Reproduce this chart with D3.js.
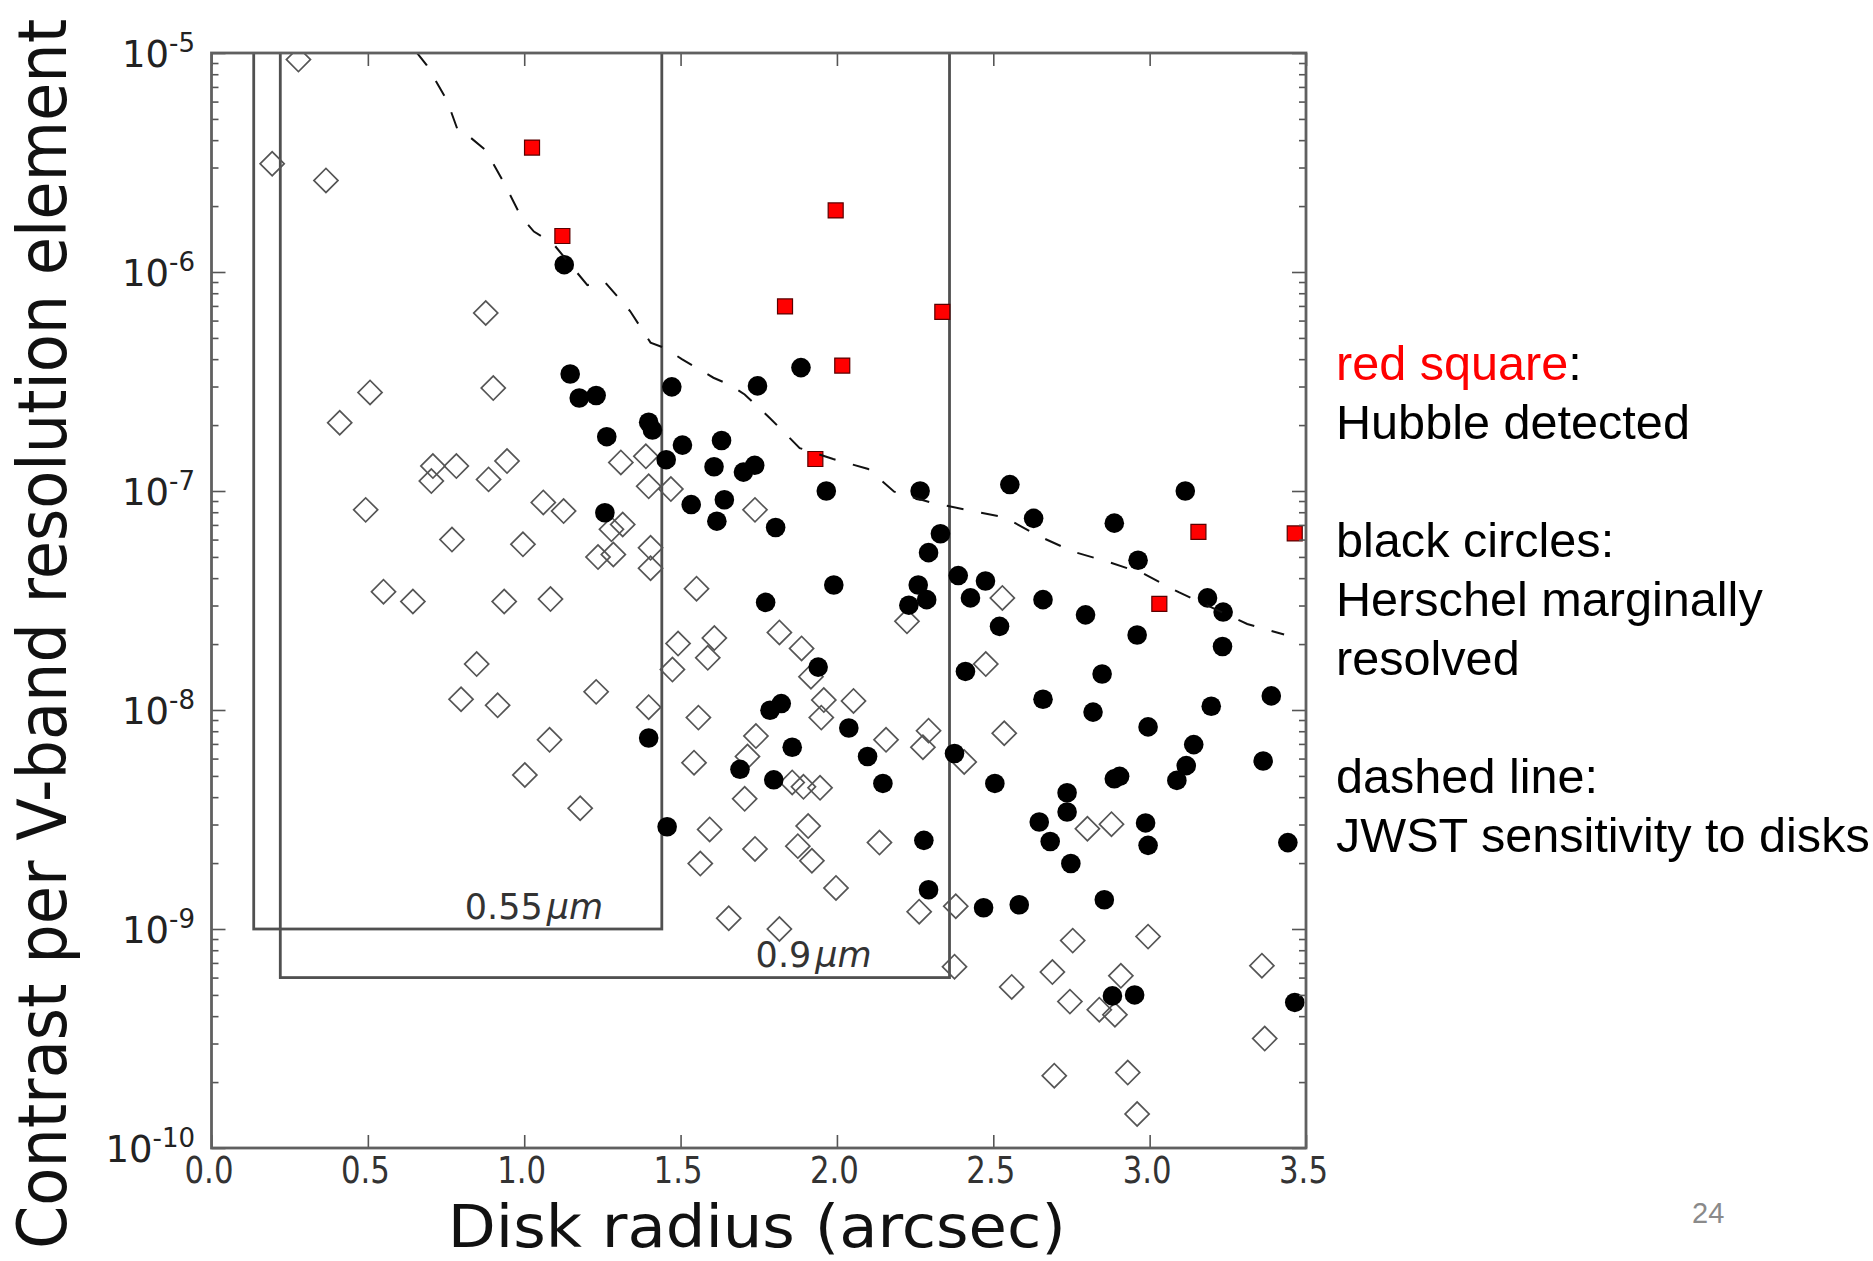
<!DOCTYPE html>
<html>
<head>
<meta charset="utf-8">
<script src="https://cdn.jsdelivr.net/npm/d3@7"></script>
<style>
  html, body { margin: 0; padding: 0; background: #fff; }
  svg { display: block; }
</style>
</head>
<body>
<script>
// ---------------- data ----------------
const xTickValues = [0, 0.5, 1.0, 1.5, 2.0, 2.5, 3.0, 3.5];
const xTickLabels = ["0.0", "0.5", "1.0", "1.5", "2.0", "2.5", "3.0", "3.5"];
const yTickValues = [1e-10, 1e-9, 1e-8, 1e-7, 1e-6, 1e-5];
const yTickExponents = ["-10", "-9", "-8", "-7", "-6", "-5"];

// red squares: Hubble detected
const hubbleX = [1.025, 1.122, 1.834, 1.996, 2.017, 2.337, 1.931, 3.156, 3.464, 3.031];
const hubbleY = [3.7e-6, 1.46e-6, 6.96e-7, 1.91e-6, 3.74e-7, 6.57e-7, 1.40e-7, 6.5e-8, 6.4e-8, 3.05e-8];

// black circles: Herschel marginally resolved
const herschelX = [1.128, 1.147, 1.176, 1.230, 1.398, 1.410, 1.264, 1.472, 1.506, 1.454,
  1.631, 1.746, 1.607, 1.701, 1.737, 1.640, 1.534, 1.616, 1.258, 1.772,
  1.885, 1.966, 2.266, 1.804, 2.331, 2.293, 2.553, 3.114, 2.629, 2.887,
  2.963, 2.388, 2.475, 1.990, 2.260, 2.287, 2.230, 2.427, 2.659, 3.185,
  2.795, 3.235, 2.520, 2.960, 3.233, 1.940, 2.411, 2.848, 2.659, 3.389,
  3.197, 2.819, 2.995, 1.786, 1.822, 2.038, 1.857, 2.098, 2.376, 3.141,
  3.117, 3.087, 3.363, 1.798, 2.147, 2.505, 2.887, 2.904, 2.736, 2.736,
  2.647, 2.682, 2.748, 2.987, 2.995, 3.442, 2.278, 2.293, 2.469, 2.583,
  2.855, 2.881, 2.952, 3.464, 1.398, 1.457, 1.690];
const herschelY = [1.08e-6, 3.42e-7, 2.66e-7, 2.73e-7, 2.06e-7, 1.90e-7, 1.77e-7, 2.99e-7, 1.62e-7, 1.39e-7,
  1.70e-7, 3.02e-7, 1.29e-7, 1.22e-7, 1.31e-7, 9.12e-8, 8.67e-8, 7.28e-8, 7.96e-8, 3.1e-8,
  3.66e-7, 1.00e-7, 1.00e-7, 6.81e-8, 6.38e-8, 5.23e-8, 1.07e-7, 1.00e-7, 7.5e-8, 7.13e-8,
  4.83e-8, 4.11e-8, 3.88e-8, 3.72e-8, 3.72e-8, 3.19e-8, 3.01e-8, 3.25e-8, 3.19e-8, 3.25e-8,
  2.72e-8, 2.80e-8, 2.41e-8, 2.20e-8, 1.95e-8, 1.57e-8, 1.50e-8, 1.46e-8, 1.12e-8, 1.16e-8,
  1.04e-8, 9.78e-9, 8.37e-9, 9.97e-9, 1.07e-8, 8.28e-9, 6.76e-9, 6.13e-9, 6.33e-9, 6.95e-9,
  5.57e-9, 4.77e-9, 5.85e-9, 4.80e-9, 4.62e-9, 4.62e-9, 4.85e-9, 4.98e-9, 4.19e-9, 3.42e-9,
  3.08e-9, 2.51e-9, 1.99e-9, 3.05e-9, 2.41e-9, 2.48e-9, 2.54e-9, 1.51e-9, 1.25e-9, 1.29e-9,
  1.36e-9, 4.95e-10, 5.0e-10, 4.62e-10, 7.45e-9, 2.93e-9, 5.36e-9];

// open diamonds: other disks
const otherX = [0.278, 0.194, 0.366, 0.877, 0.901, 0.507, 0.410, 0.708, 0.783, 0.703,
  0.945, 0.886, 1.309, 1.389, 1.398, 1.469, 0.493, 1.061, 1.126, 1.315,
  1.279, 0.769, 0.996, 1.236, 1.285, 1.404, 1.404, 1.551, 1.738, 0.550,
  0.644, 0.936, 1.084, 0.848, 0.798, 0.915, 1.230, 1.398, 1.081, 1.002,
  1.179, 1.492, 1.608, 1.587, 1.474, 1.557, 1.741, 1.714, 1.543, 1.705,
  1.593, 1.563, 1.738, 1.654, 2.529, 2.224, 1.816, 1.887, 1.917, 2.476,
  1.958, 2.053, 1.950, 2.535, 2.157, 2.293, 2.275, 2.407, 1.857, 1.893,
  1.946, 1.908, 1.875, 1.920, 2.136, 1.997, 2.263, 1.816, 2.380, 2.376,
  2.754, 2.995, 2.559, 2.689, 2.745, 2.839, 2.889, 2.908, 3.359, 3.368,
  2.695, 2.930, 2.960, 2.801, 2.878];
const otherY = [9.33e-6, 3.12e-6, 2.62e-6, 6.5e-7, 2.95e-7, 2.82e-7, 2.05e-7, 1.30e-7, 1.30e-7, 1.11e-7,
  1.37e-7, 1.13e-7, 1.35e-7, 1.44e-7, 1.05e-7, 1.02e-7, 8.2e-8, 8.87e-8, 8.1e-8, 7.03e-8,
  6.68e-8, 6.0e-8, 5.71e-8, 4.99e-8, 5.13e-8, 5.5e-8, 4.44e-8, 3.58e-8, 8.2e-8, 3.47e-8,
  3.13e-8, 3.13e-8, 3.21e-8, 1.62e-8, 1.12e-8, 1.05e-8, 1.21e-8, 1.03e-8, 7.31e-9, 5.05e-9,
  3.56e-9, 2.01e-8, 2.13e-8, 1.73e-8, 1.53e-8, 9.23e-9, 7.6e-9, 6.13e-9, 5.75e-9, 3.93e-9,
  2.85e-9, 1.99e-9, 2.32e-9, 1.12e-9, 3.25e-8, 2.54e-8, 2.26e-8, 1.91e-8, 1.42e-8, 1.62e-8,
  1.11e-8, 1.10e-8, 9.23e-9, 7.83e-9, 7.31e-9, 8.05e-9, 6.76e-9, 5.79e-9, 4.67e-9, 4.46e-9,
  4.41e-9, 2.95e-9, 2.39e-9, 2.05e-9, 2.48e-9, 1.54e-9, 1.20e-9, 1.00e-9, 1.27e-9, 6.73e-10,
  8.85e-10, 9.23e-10, 5.44e-10, 6.36e-10, 4.66e-10, 4.28e-10, 4.06e-10, 6.11e-10, 6.8e-10, 3.16e-10,
  2.14e-10, 2.21e-10, 1.43e-10, 2.87e-9, 3.01e-9];

// dashed line: JWST sensitivity to disks
const jwstX = [0.655, 0.688, 0.753, 0.789, 0.830, 0.877, 0.936, 0.990, 1.031, 1.090,
  1.202, 1.256, 1.339, 1.404, 1.451, 1.504, 1.605, 1.658, 1.705, 1.786,
  1.881, 1.988, 2.100, 2.183, 2.301, 2.419, 2.537, 2.644, 2.756, 2.869,
  2.981, 3.093, 3.312, 3.430];
const jwstY = [1.01e-5, 8.81e-6, 6.08e-6, 4.38e-6, 4.09e-6, 3.60e-6, 2.54e-6, 1.79e-6, 1.53e-6, 1.36e-6,
  8.71e-7, 9.06e-7, 6.62e-7, 4.76e-7, 4.49e-7, 4.00e-7, 3.29e-7, 3.05e-7, 2.76e-7, 2.15e-7,
  1.57e-7, 1.40e-7, 1.26e-7, 9.93e-8, 8.85e-8, 8.18e-8, 7.57e-8, 6.24e-8, 5.28e-8, 4.74e-8,
  4.19e-8, 3.45e-8, 2.47e-8, 2.21e-8];

// inner working regions (rectangles) and their labels
const boxLeft = [0.135, 0.22];
const boxRight = [1.44, 2.36];
const boxBottom = [1.0e-9, 6.0e-10];
const boxTop = [1e-4, 1e-4];
const boxLabelNum = ["0.55", "0.9"];
const boxLabelX = [0.81, 1.74];
const boxLabelY = [1.11e-9, 6.7e-10];

const legendLines = [
  [{t: "red square", c: "#ff0000"}, {t: ":", c: "#000"}],
  [{t: "Hubble detected", c: "#000"}],
  null,
  [{t: "black circles:", c: "#000"}],
  [{t: "Herschel marginally", c: "#000"}],
  [{t: "resolved", c: "#000"}],
  null,
  [{t: "dashed line:", c: "#000"}],
  [{t: "JWST sensitivity to disks", c: "#000"}]
];

// ---------------- drawing ----------------
const W = 1873, H = 1261;
const svg = d3.select("body").append("svg").attr("width", W).attr("height", H)
  .attr("font-family", "'DejaVu Sans', sans-serif");
svg.append("rect").attr("width", W).attr("height", H).attr("fill", "#fff");

const x = d3.scaleLinear().domain([0, 3.5]).range([211.5, 1306]);
const y = d3.scaleLog().domain([1e-10, 1e-5]).range([1148, 53]);
const [x0, x1] = x.range();
const [yb, yt] = y.range();

svg.append("defs").append("clipPath").attr("id", "plotclip")
  .append("rect").attr("x", x0).attr("y", yt).attr("width", x1 - x0).attr("height", yb - yt);

const plot = svg.append("g").attr("clip-path", "url(#plotclip)");

// rectangles
boxLeft.forEach((bl, i) => {
  plot.append("rect")
    .attr("x", x(bl)).attr("y", y(boxTop[i]))
    .attr("width", x(boxRight[i]) - x(bl))
    .attr("height", y(boxBottom[i]) - y(boxTop[i]))
    .attr("fill", "none").attr("stroke", "#505050").attr("stroke-width", 2.8);
});

// labels for the rectangles
boxLabelNum.forEach((t, i) => {
  const tx = svg.append("text").attr("x", x(boxLabelX[i])).attr("y", y(boxLabelY[i]))
    .attr("font-size", 35).attr("fill", "#333");
  tx.append("tspan").text(t);
  tx.append("tspan").attr("font-style", "italic").attr("dx", 4).text("μm");
});

// diamonds
plot.append("g").selectAll("path").data(otherX.map((v, i) => [v, otherY[i]])).join("path")
  .attr("d", d3.symbol(d3.symbolSquare, 290)())
  .attr("transform", d => `translate(${x(d[0])},${y(d[1])}) rotate(45)`)
  .attr("fill", "none").attr("stroke", "#555").attr("stroke-width", 1.7);

// black circles
plot.append("g").selectAll("circle").data(herschelX.map((v, i) => [v, herschelY[i]])).join("circle")
  .attr("cx", d => x(d[0])).attr("cy", d => y(d[1])).attr("r", 9.8)
  .attr("fill", "#000");

// red squares
plot.append("g").selectAll("path").data(hubbleX.map((v, i) => [v, hubbleY[i]])).join("path")
  .attr("d", d3.symbol(d3.symbolSquare, 225)())
  .attr("transform", d => `translate(${x(d[0])},${y(d[1])})`)
  .attr("fill", "#ff0000").attr("stroke", "#5a0000").attr("stroke-width", 1.2);

// dashed line
plot.append("path")
  .datum(jwstX.map((v, i) => [v, jwstY[i]]))
  .attr("d", d3.line().x(d => x(d[0])).y(d => y(d[1])))
  .attr("fill", "none").attr("stroke", "#111").attr("stroke-width", 2)
  .attr("stroke-dasharray", "17,18");

// axes
const minorY = [];
for (let k = -10; k < -5; k++) for (let m = 2; m <= 9; m++) minorY.push(m * Math.pow(10, k));

const axColor = "#555";
const gx = svg.append("g").attr("transform", `translate(0,${yb})`).style("color", axColor)
  .call(d3.axisBottom(x).tickValues(xTickValues).tickSize(-13).tickPadding(0)
    .tickFormat((d, i) => xTickLabels[i]));
gx.select(".domain").remove();
gx.selectAll("line").attr("stroke-width", 1.6);
gx.selectAll("text").attr("y", 0).attr("dy", null).attr("x", 0)
  .attr("text-anchor", "middle")
  .attr("font-size", 38).attr("fill", "#333").attr("font-family", "'DejaVu Sans', sans-serif")
  .attr("transform", "translate(-3,35) scale(0.81,1)");

const gxt = svg.append("g").attr("transform", `translate(0,${yt})`).style("color", axColor)
  .call(d3.axisTop(x).tickValues(xTickValues).tickSize(-13).tickFormat(() => ""));
gxt.select(".domain").remove();
gxt.selectAll("line").attr("stroke-width", 1.6);

function yAxis(gen, xpos, size, vals) {
  const g = svg.append("g").attr("transform", `translate(${xpos},0)`).style("color", axColor)
    .call(gen(y).tickValues(vals).tickSize(size).tickFormat(() => ""));
  g.select(".domain").remove();
  g.selectAll("line").attr("stroke-width", 1.6);
  return g;
}
yAxis(d3.axisLeft, x0, -14, yTickValues);
yAxis(d3.axisLeft, x0, -7, minorY);
yAxis(d3.axisRight, x1, -14, yTickValues);
yAxis(d3.axisRight, x1, -7, minorY);

// y tick labels with superscript exponents
yTickValues.forEach((v, i) => {
  const t = svg.append("text").attr("x", 195).attr("y", y(v) + 14)
    .attr("text-anchor", "end").attr("fill", "#222");
  t.append("tspan").attr("font-size", 37).text("10");
  t.append("tspan").attr("font-size", 26).attr("dy", -15).text(yTickExponents[i]);
});

// frame
svg.append("rect").attr("x", x0).attr("y", yt).attr("width", x1 - x0).attr("height", yb - yt)
  .attr("fill", "none").attr("stroke", "#606060").attr("stroke-width", 2.8);

// axis titles
svg.append("text")
  .attr("transform", `translate(${(x0 + x1) / 2 - 2},1246.5) scale(1.05,1)`)
  .attr("text-anchor", "middle").attr("font-size", 59.5).attr("fill", "#111")
  .text("Disk radius (arcsec)");

svg.append("text").attr("transform", "translate(66,634) rotate(-90) scale(0.914,1)")
  .attr("text-anchor", "middle").attr("font-size", 68).attr("fill", "#111")
  .text("Contrast per V-band resolution element");

// legend text on the right
const legend = svg.append("g").attr("font-family", "'Liberation Sans', Arial, sans-serif")
  .attr("font-size", 48.6);
let baseY = 380;
legendLines.forEach(line => {
  if (line) {
    const t = legend.append("text").attr("x", 1336).attr("y", baseY);
    line.forEach(seg => t.append("tspan").attr("fill", seg.c).text(seg.t));
  }
  baseY += 59;
});

// page number
svg.append("text").attr("x", 1692).attr("y", 1223)
  .attr("font-family", "'Liberation Sans', Arial, sans-serif")
  .attr("font-size", 29).attr("fill", "#8a8a8a").text("24");
</script>
</body>
</html>
